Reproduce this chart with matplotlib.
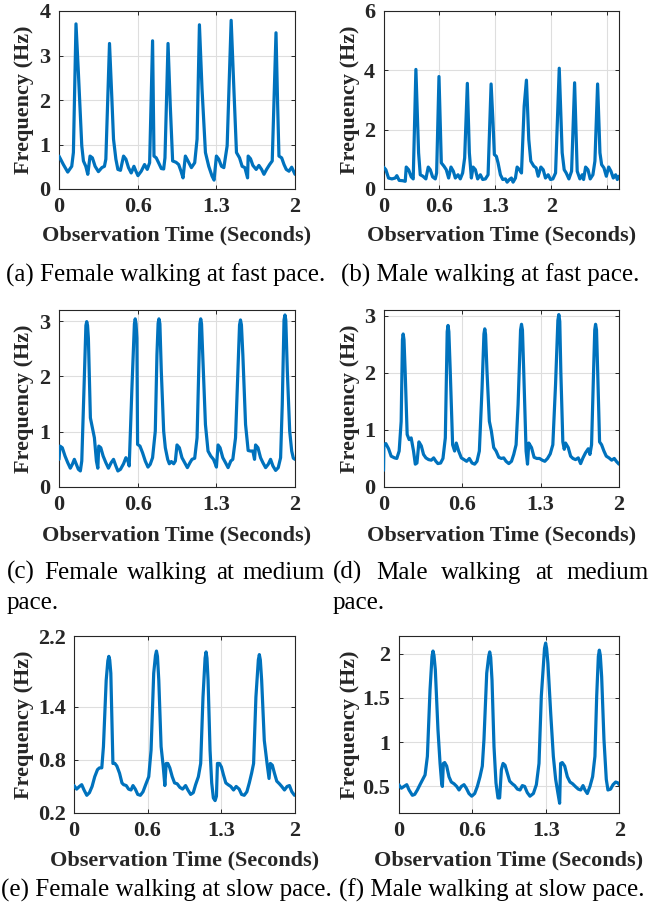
import matplotlib
matplotlib.use("Agg")
import matplotlib.pyplot as plt

plt.rcParams["font.family"] = ["Liberation Serif", "DejaVu Serif"]

# ---------------------------------------------------------------- data
# (a) female, fast pace
t_a = [0.000, 0.037, 0.074, 0.108, 0.122, 0.144, 0.164, 0.193, 0.207, 0.227,
       0.244, 0.263, 0.283, 0.306, 0.334, 0.363, 0.385, 0.397, 0.428, 0.448,
       0.462, 0.482, 0.499, 0.521, 0.547, 0.567, 0.589, 0.612, 0.635, 0.652,
       0.669, 0.697, 0.725, 0.748, 0.768, 0.793, 0.805, 0.824, 0.844, 0.867,
       0.887, 0.898, 0.924, 0.943, 0.963, 0.992, 1.014, 1.034, 1.051, 1.071,
       1.093, 1.122, 1.150, 1.170, 1.190, 1.212, 1.241, 1.269, 1.297, 1.314,
       1.334, 1.354, 1.377, 1.397, 1.425, 1.459, 1.482, 1.504, 1.530, 1.552,
       1.575, 1.598, 1.603, 1.623, 1.643, 1.671, 1.694, 1.717, 1.737, 1.759,
       1.785, 1.807, 1.839, 1.853, 1.864, 1.887, 1.907, 1.926, 1.949, 1.972,
       2.000]
f_a = [0.74, 0.55, 0.38, 0.51, 0.82, 3.71, 2.63, 0.97, 0.63, 0.51,
       0.33, 0.74, 0.70, 0.51, 0.39, 0.48, 0.51, 0.67, 3.27, 2.03,
       1.12, 0.67, 0.44, 0.42, 0.74, 0.67, 0.48, 0.36, 0.51, 0.40,
       0.30, 0.40, 0.55, 0.44, 0.59, 3.33, 0.74, 0.70, 0.59, 0.46,
       0.45, 0.70, 3.27, 1.87, 0.63, 0.60, 0.55, 0.40, 0.25, 0.74,
       0.63, 0.48, 0.59, 1.12, 3.69, 2.25, 0.82, 0.51, 0.29, 0.20,
       0.74, 0.67, 0.51, 0.48, 0.97, 3.79, 2.25, 0.82, 0.70, 0.51,
       0.48, 0.25, 0.74, 0.68, 0.53, 0.44, 0.53, 0.44, 0.33, 0.44,
       0.55, 0.63, 3.51, 1.87, 0.74, 0.70, 0.55, 0.44, 0.40, 0.49,
       0.33]

# (b) male, fast pace
t_b = [0.000, 0.028, 0.060, 0.100, 0.139, 0.159, 0.187, 0.227, 0.259, 0.271,
       0.299, 0.330, 0.354, 0.386, 0.418, 0.438, 0.470, 0.505, 0.533, 0.557,
       0.585, 0.617, 0.633, 0.661, 0.689, 0.720, 0.748, 0.776, 0.804, 0.832,
       0.856, 0.888, 0.915, 0.943, 0.967, 0.999, 1.023, 1.047, 1.067, 1.095,
       1.122, 1.154, 1.182, 1.214, 1.246, 1.282, 1.305, 1.321, 1.345, 1.365,
       1.393, 1.421, 1.453, 1.473, 1.500, 1.524, 1.544, 1.572, 1.592, 1.620,
       1.644, 1.676, 1.703, 1.731, 1.755, 1.791, 1.819, 1.843, 1.875, 1.903,
       1.930, 1.962, 1.990, 2.018, 2.050, 2.094, 2.129, 2.153, 2.177, 2.209,
       2.241, 2.277, 2.308, 2.340, 2.368, 2.384, 2.408, 2.436, 2.463, 2.495,
       2.519, 2.551, 2.579, 2.599, 2.627, 2.655, 2.683, 2.710, 2.738, 2.766,
       2.786, 2.806]
f_b = [0.74, 0.65, 0.37, 0.34, 0.37, 0.45, 0.29, 0.28, 0.26, 0.74,
       0.65, 0.41, 0.34, 4.03, 1.22, 0.48, 0.43, 0.34, 0.74, 0.65,
       0.41, 0.34, 0.54, 3.79, 0.88, 0.77, 0.65, 0.37, 0.74, 0.60,
       0.37, 0.48, 0.34, 0.54, 1.05, 3.56, 1.22, 0.37, 0.74, 0.65,
       0.34, 0.48, 0.32, 0.34, 0.48, 3.54, 2.23, 1.16, 1.10, 0.88,
       0.48, 0.32, 0.34, 0.23, 0.32, 0.37, 0.23, 0.37, 0.74, 0.65,
       0.54, 2.79, 3.67, 1.67, 0.94, 0.77, 0.71, 0.43, 0.74, 0.65,
       0.37, 0.48, 0.32, 0.34, 0.54, 4.07, 1.22, 0.65, 0.54, 0.34,
       0.60, 3.58, 0.60, 0.34, 0.48, 0.32, 0.74, 0.65, 0.34, 0.48,
       0.94, 3.54, 1.22, 0.82, 0.71, 0.43, 0.74, 0.60, 0.37, 0.48,
       0.32, 0.43]

# (c) female, medium pace
t_c = [0.000, 0.008, 0.028, 0.051, 0.074, 0.096, 0.113, 0.130, 0.147, 0.164,
       0.181, 0.193, 0.212, 0.228, 0.235, 0.242, 0.249, 0.266, 0.283, 0.300,
       0.317, 0.329,
       0.337, 0.354, 0.374, 0.397, 0.419, 0.442, 0.462, 0.482, 0.499, 0.521,
       0.547, 0.567, 0.584, 0.595, 0.618, 0.639, 0.646, 0.653, 0.660, 0.666,
       0.686, 0.708,
       0.731, 0.754, 0.773, 0.793, 0.816, 0.830, 0.840, 0.847, 0.855, 0.867,
       0.887, 0.901,
       0.921, 0.935, 0.952, 0.972, 0.986, 1.000, 1.020, 1.042, 1.065, 1.088,
       1.110, 1.127, 1.150, 1.170, 1.184, 1.194, 1.201, 1.208, 1.218, 1.241,
       1.263, 1.286,
       1.309, 1.326, 1.334, 1.348, 1.365, 1.388, 1.411, 1.433, 1.456, 1.473,
       1.496, 1.516, 1.530, 1.538, 1.546, 1.558, 1.581, 1.603, 1.623, 1.643,
       1.657, 1.666,
       1.686, 1.708, 1.728, 1.751, 1.773, 1.793, 1.813, 1.836, 1.858, 1.878,
       1.892, 1.907, 1.915, 1.922, 1.935, 1.955, 1.972, 1.986, 2.000]
f_c = [0.50, 0.74, 0.71, 0.56, 0.44, 0.34, 0.41, 0.50, 0.41, 0.32,
       0.29, 0.47, 1.79, 2.92, 2.99, 2.92, 2.69, 1.25, 1.07, 0.89,
       0.47, 0.34,
       0.74, 0.71, 0.56, 0.44, 0.34, 0.44, 0.50, 0.38, 0.29, 0.32,
       0.42, 0.53, 0.47, 0.38, 1.79, 2.95, 3.04, 2.95, 2.69, 0.77,
       0.74, 0.62,
       0.47, 0.36, 0.41, 0.53, 1.01, 2.39, 2.96, 3.04, 2.95, 2.09,
       1.01, 0.71,
       0.50, 0.42, 0.46, 0.42, 0.47, 0.76, 0.71, 0.53, 0.44, 0.35,
       0.44, 0.50, 0.52, 0.89, 2.09, 2.95, 3.04, 2.95, 2.39, 1.13,
       0.65, 0.56,
       0.50, 0.41, 0.36, 0.76, 0.71, 0.53, 0.44, 0.35, 0.47, 0.50,
       0.89, 2.09, 2.93, 3.02, 2.93, 2.39, 1.13, 0.66, 0.65, 0.65,
       0.50, 0.76,
       0.71, 0.53, 0.44, 0.35, 0.41, 0.50, 0.38, 0.30, 0.35, 0.53,
       1.49, 3.02, 3.11, 3.02, 2.09, 1.01, 0.65, 0.52, 0.50]

# (d) male, medium pace
t_d = [0.000, 0.003, 0.020, 0.043, 0.065, 0.094, 0.113, 0.133, 0.150, 0.161,
       0.167, 0.174,
       0.184, 0.201, 0.218, 0.235, 0.255, 0.270, 0.284, 0.301, 0.321, 0.340,
       0.360, 0.383, 0.406, 0.426, 0.445, 0.462, 0.485, 0.505, 0.525, 0.541,
       0.548, 0.555,
       0.567, 0.587, 0.604, 0.618, 0.638, 0.661, 0.684, 0.706, 0.729, 0.752,
       0.774, 0.794, 0.814, 0.837, 0.853, 0.860, 0.867, 0.879, 0.899, 0.916,
       0.936, 0.956,
       0.979, 1.001, 1.021, 1.041, 1.064, 1.087, 1.106, 1.126, 1.143, 1.164,
       1.172, 1.180,
       1.191, 1.211, 1.223, 1.234, 1.257, 1.279, 1.302, 1.325, 1.348, 1.370,
       1.393, 1.416, 1.438, 1.461, 1.481, 1.489, 1.497, 1.506, 1.523, 1.535,
       1.546, 1.569,
       1.589, 1.609, 1.631, 1.654, 1.674, 1.694, 1.716, 1.739, 1.753, 1.767,
       1.784, 1.794, 1.801, 1.809, 1.819, 1.835, 1.852, 1.872, 1.892, 1.915,
       1.938, 1.960,
       1.977, 2.000]
f_d = [0.29, 0.74, 0.76, 0.67, 0.54, 0.51, 0.50, 0.63, 1.15, 2.58,
       2.68, 2.58,
       2.02, 0.92, 0.83, 0.86, 0.63, 0.40, 0.42, 0.79, 0.72, 0.57,
       0.51, 0.48, 0.47, 0.51, 0.45, 0.41, 0.42, 0.50, 0.86, 2.72,
       2.83, 2.72,
       2.02, 0.74, 0.63, 0.77, 0.63, 0.51, 0.48, 0.45, 0.50, 0.42,
       0.40, 0.45, 0.63, 1.73, 2.68, 2.77, 2.67, 2.02, 1.15, 0.98,
       0.69, 0.63,
       0.52, 0.50, 0.51, 0.45, 0.41, 0.45, 0.57, 0.74, 1.44, 2.75,
       2.85, 2.75,
       2.02, 0.63, 0.40, 0.77, 0.69, 0.52, 0.50, 0.50, 0.47, 0.45,
       0.50, 0.58, 0.74, 1.79, 2.92, 3.02, 2.90, 2.02, 0.79, 0.66,
       0.77, 0.69,
       0.54, 0.50, 0.48, 0.51, 0.41, 0.51, 0.60, 0.67, 0.57, 0.74,
       2.02, 2.75, 2.85, 2.75, 2.02, 0.79, 0.74, 0.63, 0.54, 0.51,
       0.47, 0.50,
       0.45, 0.40]

# (e) female, slow pace
t_e = [0.000, 0.024, 0.049, 0.070, 0.091, 0.116, 0.140, 0.164, 0.188, 0.213,
       0.231, 0.252, 0.267, 0.292, 0.307, 0.316, 0.324, 0.334, 0.353, 0.371,
       0.389, 0.413,
       0.435, 0.450, 0.474, 0.495, 0.517, 0.535, 0.556, 0.578, 0.602, 0.626,
       0.650, 0.678, 0.699, 0.723, 0.739, 0.748, 0.757, 0.769, 0.790, 0.809,
       0.824, 0.836,
       0.851, 0.869, 0.891, 0.912, 0.936, 0.960, 0.985, 1.012, 1.033, 1.058,
       1.082, 1.103, 1.128, 1.149, 1.170, 1.189, 1.198, 1.206, 1.216, 1.234,
       1.249, 1.264,
       1.280, 1.292, 1.301, 1.319, 1.337, 1.356, 1.377, 1.398, 1.422, 1.447,
       1.471, 1.498, 1.520, 1.544, 1.568, 1.590, 1.611, 1.629, 1.650, 1.672,
       1.681, 1.690,
       1.702, 1.726, 1.751, 1.769, 1.781, 1.799, 1.818, 1.839, 1.863, 1.884,
       1.909, 1.933, 1.954, 1.976, 2.000]
f_e = [0.51, 0.47, 0.50, 0.52, 0.46, 0.40, 0.43, 0.50, 0.61, 0.69,
       0.71, 0.71, 0.95, 1.70, 1.92, 1.97, 1.93, 1.78, 0.76, 0.76,
       0.73, 0.65,
       0.54, 0.52, 0.51, 0.47, 0.46, 0.51, 0.47, 0.41, 0.40, 0.44,
       0.52, 0.61, 0.91, 1.78, 1.98, 2.03, 1.97, 1.70, 0.95, 0.73,
       0.51, 0.76,
       0.76, 0.71, 0.61, 0.54, 0.53, 0.49, 0.47, 0.51, 0.46, 0.41,
       0.43, 0.52, 0.61, 0.76, 1.51, 1.95, 2.02, 1.95, 1.70, 0.91,
       0.54, 0.37,
       0.34, 0.39, 0.76, 0.76, 0.72, 0.63, 0.54, 0.52, 0.50, 0.46,
       0.50, 0.47, 0.41, 0.40, 0.44, 0.54, 0.65, 0.76, 1.51, 1.93,
       1.99, 1.93,
       1.70, 1.02, 0.76, 0.59, 0.76, 0.74, 0.65, 0.56, 0.53, 0.50,
       0.46, 0.50, 0.51, 0.44, 0.40]

# (f) male, slow pace
t_f = [0.000, 0.024, 0.048, 0.073, 0.094, 0.124, 0.145, 0.169, 0.193, 0.218,
       0.239, 0.260, 0.284, 0.302, 0.311, 0.320, 0.332, 0.356, 0.375, 0.390,
       0.396, 0.405,
       0.417, 0.435, 0.456, 0.477, 0.502, 0.526, 0.547, 0.568, 0.592, 0.613,
       0.637, 0.662, 0.689, 0.713, 0.737, 0.758, 0.773, 0.798, 0.816, 0.825,
       0.834, 0.846,
       0.864, 0.882, 0.900, 0.915, 0.931, 0.946, 0.964, 0.985, 1.006, 1.030,
       1.051, 1.076, 1.100, 1.121, 1.142, 1.166, 1.190, 1.221, 1.248, 1.272,
       1.293, 1.322, 1.332, 1.341, 1.353, 1.378, 1.402, 1.423, 1.444, 1.459,
       1.468, 1.483,
       1.505, 1.529, 1.553, 1.577, 1.601, 1.628, 1.650, 1.671, 1.689, 1.710,
       1.734, 1.758, 1.779, 1.795, 1.810, 1.819, 1.828, 1.840, 1.861, 1.882,
       1.897, 1.921,
       1.943, 1.967, 1.988, 2.000]
f_f = [0.52, 0.48, 0.50, 0.52, 0.46, 0.40, 0.41, 0.46, 0.52, 0.58,
       0.63, 0.84, 1.59, 1.97, 2.03, 1.98, 1.82, 1.14, 0.76, 0.53,
       0.50, 0.76,
       0.77, 0.73, 0.61, 0.55, 0.53, 0.50, 0.46, 0.50, 0.52, 0.48,
       0.42, 0.39, 0.42, 0.50, 0.61, 0.73, 1.03, 1.78, 1.97, 2.02,
       1.96, 1.70,
       0.95, 0.54, 0.37, 0.37, 0.69, 0.76, 0.74, 0.65, 0.56, 0.53,
       0.51, 0.47, 0.46, 0.51, 0.50, 0.43, 0.39, 0.42, 0.52, 0.76,
       1.52, 2.06, 2.12, 2.06, 1.89, 1.33, 0.84, 0.58, 0.42, 0.31,
       0.76, 0.77,
       0.73, 0.61, 0.55, 0.53, 0.50, 0.47, 0.46, 0.51, 0.46, 0.42,
       0.50, 0.61, 0.84, 1.52, 1.97, 2.04, 1.98, 1.74, 1.03, 0.58,
       0.46, 0.47,
       0.52, 0.55, 0.54, 0.52]

# tick positions / labels
x_ticks = [0, 2 / 3, 4 / 3, 2]
x_ticks_long = [0, 2 / 3, 4 / 3, 2, 8 / 3]
x_labels = ["0", "0.6", "1.3", "2"]
x_labels_long = ["0", "0.6", "1.3", "2", ""]

y_ticks_a = [0, 1, 2, 3, 4]
y_ticks_b = [0, 2, 4, 6]
y_ticks_cd = [0, 1, 2, 3]
y_ticks_e = [0.2, 0.8, 1.4, 2.2]
y_ticks_f = [0.5, 1.0, 1.5, 2.0]
y_labels_a = ["0", "1", "2", "3", "4"]
y_labels_b = ["0", "2", "4", "6"]
y_labels_cd = ["0", "1", "2", "3"]
y_labels_e = ["0.2", "0.8", "1.4", "2.2"]
y_labels_f = ["0.5", "1", "1.5", "2"]

captions = [
    "(a) Female walking at fast pace.",
    "(b) Male walking at fast pace.",
    "(c) Female walking at medium pace.",
    "(d) Male walking at medium pace.",
    "(e) Female walking at slow pace.",
    "(f) Male walking at slow pace.",
]

# ---------------------------------------------------------------- figure
W, H = 668, 914
fig = plt.figure(figsize=(W / 100, H / 100), dpi=100)

LINE = "#0072BD"
AXC = "#262626"
GRID = "#dedede"


def rect(left, right, top, bottom):
    return [left / W, 1 - bottom / H, (right - left) / W, (bottom - top) / H]


panels = [
    dict(t=t_a, f=f_a, box=(59, 295, 11, 189), xlim=(0, 2), ylim=(0, 4),
         xt=x_ticks, xl=x_labels, yt=y_ticks_a, yl=y_labels_a, ylab_x=24,
         xlab_y=235),
    dict(t=t_b, f=f_b, box=(383.5, 619, 11, 189), xlim=(0, 2.806), ylim=(0, 6),
         xt=x_ticks_long, xl=x_labels_long, yt=y_ticks_b, yl=y_labels_b,
         ylab_x=349.5, xlab_y=235),
    dict(t=t_c, f=f_c, box=(59, 295, 310, 487), xlim=(0, 2), ylim=(0, 3.2),
         xt=x_ticks, xl=x_labels, yt=y_ticks_cd, yl=y_labels_cd, ylab_x=24,
         xlab_y=535),
    dict(t=t_d, f=f_d, box=(383.5, 619, 310, 487), xlim=(0, 2), ylim=(0, 3.1),
         xt=x_ticks, xl=x_labels, yt=y_ticks_cd, yl=y_labels_cd,
         ylab_x=349.5, xlab_y=535),
    dict(t=t_e, f=f_e, box=(74, 294.5, 636, 813), xlim=(0, 2), ylim=(0.2, 2.2),
         xt=x_ticks, xl=x_labels, yt=y_ticks_e, yl=y_labels_e, ylab_x=24,
         xlab_y=860),
    dict(t=t_f, f=f_f, box=(398.7, 619.3, 636, 813), xlim=(0, 2),
         ylim=(0.2, 2.2), xt=x_ticks, xl=x_labels, yt=y_ticks_f, yl=y_labels_f,
         ylab_x=349.5, xlab_y=860),
]

for p in panels:
    l, r, tp, b = p["box"]
    ax = fig.add_axes(rect(l, r, tp, b))
    ax.plot(p["t"], p["f"], color=LINE, lw=2.3, solid_joinstyle="round",
            solid_capstyle="round", zorder=3)
    ax.set_xlim(*p["xlim"])
    ax.set_ylim(*p["ylim"])
    ax.set_xticks(p["xt"])
    ax.set_xticklabels(p["xl"])
    ax.set_yticks(p["yt"])
    ax.set_yticklabels(p["yl"])
    ax.grid(True, color=GRID, lw=0.8, zorder=0)
    ax.set_axisbelow(True)
    for s in ax.spines.values():
        s.set_color(AXC)
        s.set_linewidth(0.8)
    ax.tick_params(direction="in", length=3, width=0.7, colors=AXC,
                   top=True, right=True, labelsize=16, pad=6)
    for lab in ax.get_xticklabels() + ax.get_yticklabels():
        lab.set_fontweight("bold")
    ax.set_xlabel("Observation Time (Seconds)", fontsize=16, fontweight="bold",
                  color=AXC, va="center", ha="center")
    ax.set_ylabel("Frequency (Hz)", fontsize=16, fontweight="bold",
                  color=AXC, va="center", ha="center")
    ax.xaxis.set_label_coords(0.5, -(p["xlab_y"] - b) / (b - tp))
    ax.yaxis.set_label_coords((p["ylab_x"] - l) / (r - l), 0.5)

# ---------------------------------------------------------------- captions
CAP = 18


def fx(px):
    return px / W


def fy(py):
    return 1 - py / H


# single-line captions, centred below each column
for cap, cx, base in [(captions[0], 166, 282), (captions[1], 490, 282),
                      (captions[4], 166, 897), (captions[5], 492, 897)]:
    fig.text(fx(cx), fy(base), cap, fontsize=CAP, ha="center", va="baseline",
             color="black")

# two-line justified captions
renderer = fig.canvas.get_renderer()
for cap, x0, x1 in [(captions[2], 7, 325), (captions[3], 333, 649)]:
    words = cap.split()
    first, last_line = words[:-1], words[-1]
    arts = [fig.text(0, 0, w, fontsize=CAP, va="baseline", color="black")
            for w in first]
    widths = [a.get_window_extent(renderer).width for a in arts]
    gap = (x1 - x0 - sum(widths)) / (len(first) - 1)
    x = x0
    for a, w in zip(arts, widths):
        a.set_position((fx(x), fy(579)))
        x += w + gap
    fig.text(fx(x0), fy(609), last_line, fontsize=CAP, va="baseline",
             ha="left", color="black")

fig.savefig("out.png", dpi=100)
